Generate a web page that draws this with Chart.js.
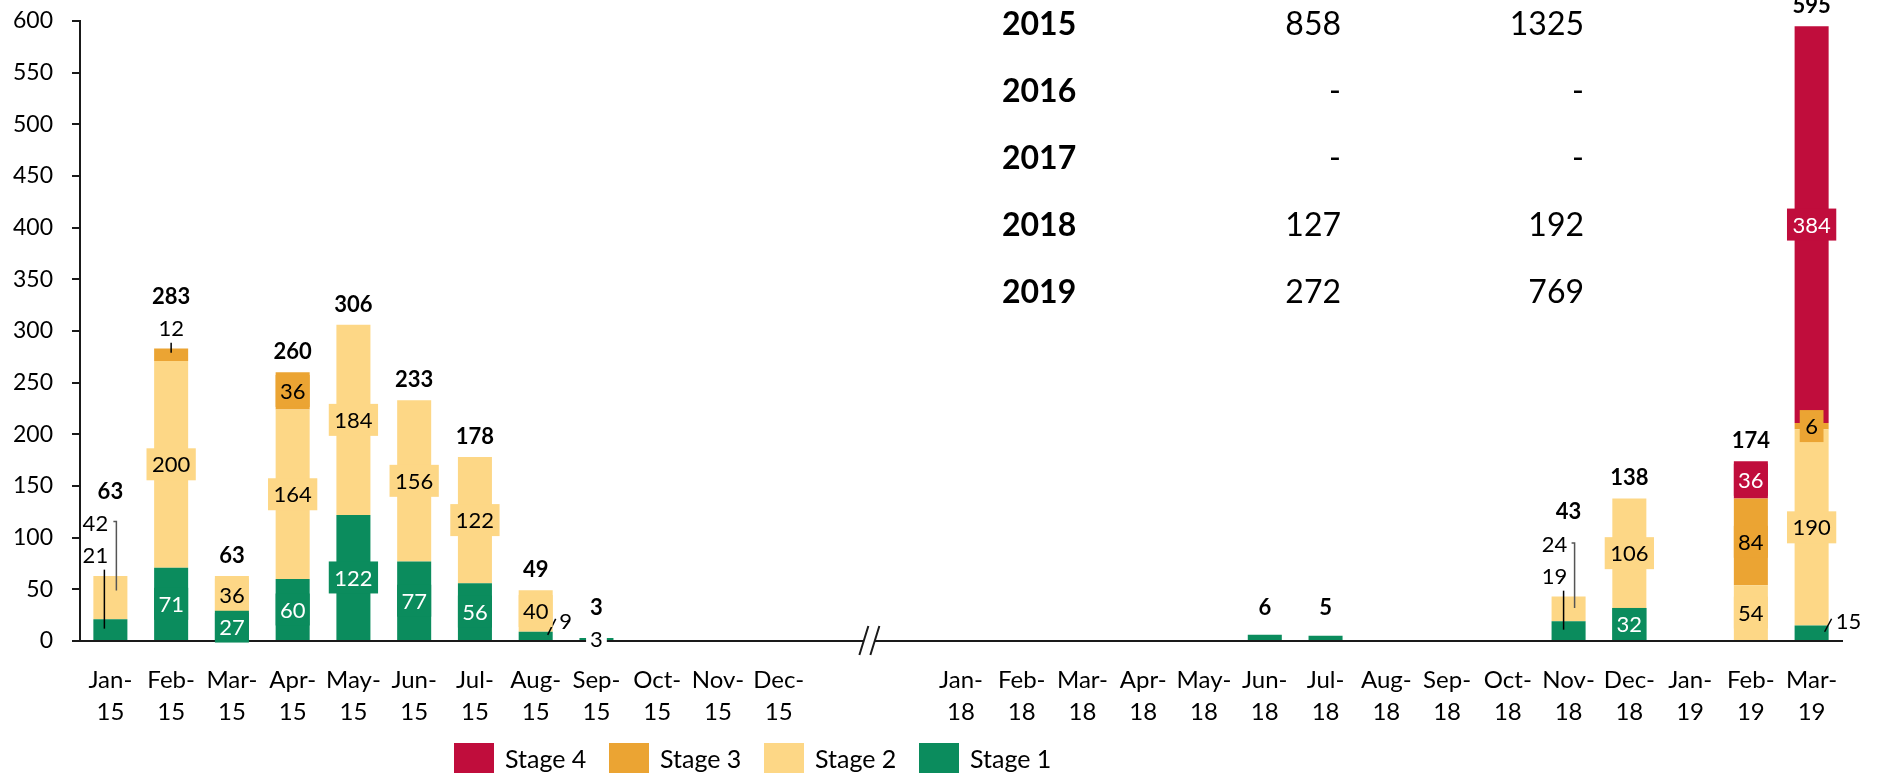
<!DOCTYPE html>
<html>
<head>
<meta charset="utf-8">
<script src="https://cdn.jsdelivr.net/npm/chart.js@4.4.1/dist/chart.umd.min.js"></script>
<style>
  html, body { margin: 0; padding: 0; background: #fff; }
  #wrap { width: 1877px; height: 775px; position: relative; }
</style>
</head>
<body>
<div id="wrap"><canvas id="chart" width="1877" height="775"></canvas></div>
<script>
// Monthly counts by stage; the two blank slots mark the 2016–2017 axis break.
const categories = [
  'Jan-15','Feb-15','Mar-15','Apr-15','May-15','Jun-15','Jul-15','Aug-15','Sep-15','Oct-15','Nov-15','Dec-15',
  '', '',
  'Jan-18','Feb-18','Mar-18','Apr-18','May-18','Jun-18','Jul-18','Aug-18','Sep-18','Oct-18','Nov-18','Dec-18',
  'Jan-19','Feb-19','Mar-19'
];
const stage1 = [21, 71, 27, 60, 122, 77, 56, 9, 3, null, null, null, null, null,
                null, null, null, null, null, 6, 5, null, null, null, 19, 32, null, null, 15];
const stage2 = [42, 200, 36, 164, 184, 156, 122, 40, null, null, null, null, null, null,
                null, null, null, null, null, null, null, null, null, null, 24, 106, null, 54, 190];
const stage3 = [null, 12, null, 36, null, null, null, null, null, null, null, null, null, null,
                null, null, null, null, null, null, null, null, null, null, null, null, null, 84, 6];
const stage4 = [null, null, null, null, null, null, null, null, null, null, null, null, null, null,
                null, null, null, null, null, null, null, null, null, null, null, null, null, 36, 384];

const stageNames = ['Stage 1', 'Stage 2', 'Stage 3', 'Stage 4'];
const stageColors = ['#0B8C5D', '#FDD786', '#EBA433', '#C00D3C'];
const stageTextColors = ['#ffffff', '#000000', '#000000', '#ffffff'];

// Summary table shown in the upper right
const tableYears = ['2015', '2016', '2017', '2018', '2019'];
const tableColA = ['858', '-', '-', '127', '272'];
const tableColB = ['1325', '-', '-', '192', '769'];

const FONT = 'Lato, "Open Sans", sans-serif';
const LABEL_SIZE = 22;

// Segment labels that sit outside their bar with a leader line (offsets in px from segment centre)
const callouts = {
  '0:0':  { dx: -15, dy: -75, line: [[-6, -60], [-6, -1]], color: '#000' },
  '1:0':  { dx: -15, dy: -75, line: [[3, -76], [6, -76], [6, -7]], color: '#555' },
  '2:1':  { dx: 0, dy: -27, line: [[0, -12], [0, -2]], color: '#000' },
  '0:7':  { dx: 30, dy: -15, line: [[12, -1], [20, -17]], color: '#000' },
  '0:8':  { dx: 0, dy: 0, bg: '#ffffff' },
  '0:24': { dx: -14, dy: -55, line: [[-5, -40], [-5, -1]], color: '#000' },
  '1:24': { dx: -14, dy: -65, line: [[3, -66], [6, -66], [6, -1]], color: '#555' },
  '0:28': { dx: 37, dy: -12, line: [[13, -1], [20, -14]], color: '#000' }
};
const hiddenLabels = new Set(['0:19', '0:20']);
// Gap between a bar top and its bold total label
const totalGap = { 0: 84, 1: 52, 8: 30, 19: 27, 20: 28, 24: 85 };

const segmentLabels = {
  id: 'segmentLabels',
  afterDatasetsDraw(chart) {
    const ctx = chart.ctx;
    const x = chart.scales.x, y = chart.scales.y;
    ctx.save();
    ctx.textAlign = 'center';
    ctx.textBaseline = 'middle';
    chart.data.datasets.forEach((ds, di) => {
      const meta = chart.getDatasetMeta(di);
      meta.data.forEach((bar, i) => {
        const v = ds.data[i];
        if (v == null || v === 0) return;
        const key = di + ':' + i;
        if (hiddenLabels.has(key)) return;
        const cx = bar.x, cy = (bar.y + bar.base) / 2;
        const co = callouts[key];
        ctx.font = LABEL_SIZE + 'px ' + FONT;
        const txt = String(v);
        const w = ctx.measureText(txt).width;
        if (co) {
          if (co.line) {
            ctx.strokeStyle = co.color;
            ctx.lineWidth = 1.5;
            ctx.beginPath();
            co.line.forEach((p, k) => {
              const px = cx + p[0], py = cy + p[1];
              if (k === 0) ctx.moveTo(px, py); else ctx.lineTo(px, py);
            });
            ctx.stroke();
          }
          if (co.bg) {
            ctx.fillStyle = co.bg;
            ctx.fillRect(cx + co.dx - w / 2 - 4, cy + co.dy - 15, w + 8, 30);
          }
          ctx.fillStyle = '#000';
          ctx.fillText(txt, cx + co.dx, cy + co.dy + 1);
        } else {
          let bw = w + 11;
          if (bw <= bar.width + 4) bw = Math.min(bw, bar.width);
          ctx.fillStyle = ds.backgroundColor;
          ctx.fillRect(cx - bw / 2, cy - 16, bw, 32);
          ctx.fillStyle = stageTextColors[di];
          ctx.fillText(txt, cx, cy + 1);
        }
      });
    });
    // bold totals above each stack
    ctx.font = 'bold ' + LABEL_SIZE + 'px ' + FONT;
    ctx.fillStyle = '#000';
    categories.forEach((c, i) => {
      let total = 0;
      chart.data.datasets.forEach(ds => { total += ds.data[i] || 0; });
      if (!total) return;
      const gap = totalGap[i] !== undefined ? totalGap[i] : 20;
      ctx.fillText(String(total), x.getPixelForValue(i), y.getPixelForValue(total) - gap);
    });
    ctx.restore();
  }
};

const extras = {
  id: 'extras',
  afterDraw(chart) {
    const ctx = chart.ctx;
    const x = chart.scales.x;
    const base = chart.chartArea.bottom;
    ctx.save();
    // axis break marks between the two blank slots
    const mid = (x.getPixelForValue(12) + x.getPixelForValue(13)) / 2;
    ctx.fillStyle = '#fff';
    ctx.beginPath();
    ctx.moveTo(mid - 5, base - 5); ctx.lineTo(mid + 6, base - 5);
    ctx.lineTo(mid + 4, base + 5); ctx.lineTo(mid - 7, base + 5);
    ctx.closePath(); ctx.fill();
    ctx.strokeStyle = '#1a1a1a';
    ctx.lineWidth = 2;
    ctx.beginPath();
    ctx.moveTo(mid - 10.5, base + 14); ctx.lineTo(mid - 1.5, base - 15);
    ctx.moveTo(mid + 0.5, base + 14); ctx.lineTo(mid + 9.5, base - 15);
    ctx.stroke();

    // legend, highest stage first
    ctx.textAlign = 'left';
    ctx.textBaseline = 'middle';
    ctx.font = '25px ' + FONT;
    [3, 2, 1, 0].forEach((di, k) => {
      const lx = 454 + k * 155;
      ctx.fillStyle = stageColors[di];
      ctx.fillRect(lx, 743, 40, 30);
      ctx.fillStyle = '#000';
      ctx.fillText(stageNames[di], lx + 51, 760);
    });

    // summary table
    tableYears.forEach((yr, r) => {
      const ty = 25 + r * 67;
      ctx.font = 'bold 32px ' + FONT;
      ctx.textAlign = 'left';
      ctx.fillText(yr, 1002, ty);
      ctx.font = '32px ' + FONT;
      ctx.textAlign = 'right';
      ctx.fillText(tableColA[r], 1341, ty);
      ctx.fillText(tableColB[r], 1584, ty);
    });
    ctx.restore();
  }
};

function build() {
  const datasets = [stage1, stage2, stage3, stage4].map((d, k) => ({
    label: stageNames[k],
    data: d,
    backgroundColor: stageColors[k],
    borderWidth: 0,
    barPercentage: 0.56,
    categoryPercentage: 1.0
  }));
  new Chart(document.getElementById('chart'), {
    type: 'bar',
    data: { labels: categories, datasets },
    options: {
      responsive: false,
      animation: false,
      layout: { padding: { top: 21, right: 35, left: 0, bottom: 0 } },
      plugins: { legend: { display: false }, tooltip: { enabled: false } },
      scales: {
        x: {
          stacked: true,
          afterFit(s) { s.height = 134; s.paddingLeft = 0; s.paddingRight = 0; },
          grid: { display: true, drawOnChartArea: false, drawTicks: false },
          border: { display: true, color: '#1a1a1a', width: 2 },
          ticks: {
            autoSkip: false, maxRotation: 0, minRotation: 0, padding: 24,
            color: '#000',
            font: { family: FONT, size: 24, lineHeight: 1.3 },
            callback(v, i) {
              const s = categories[i];
              if (!s) return '';
              const p = s.indexOf('-');
              return [s.slice(0, p + 1), s.slice(p + 1)];
            }
          }
        },
        y: {
          stacked: true,
          min: 0, max: 600,
          afterFit(s) { s.width = 80; s.paddingTop = 0; s.paddingBottom = 0; },
          grid: { display: true, drawOnChartArea: false, drawTicks: true, tickLength: 8, color: '#1a1a1a', lineWidth: 2 },
          border: { display: true, color: '#1a1a1a', width: 2 },
          ticks: { stepSize: 50, padding: 19, color: '#000', font: { family: FONT, size: 23 } }
        }
      }
    },
    plugins: [segmentLabels, extras]
  });
}

if (document.fonts && document.fonts.load) {
  Promise.all([
    document.fonts.load('22px Lato'),
    document.fonts.load('bold 22px Lato')
  ]).then(build, build);
} else {
  build();
}
</script>
</body>
</html>
